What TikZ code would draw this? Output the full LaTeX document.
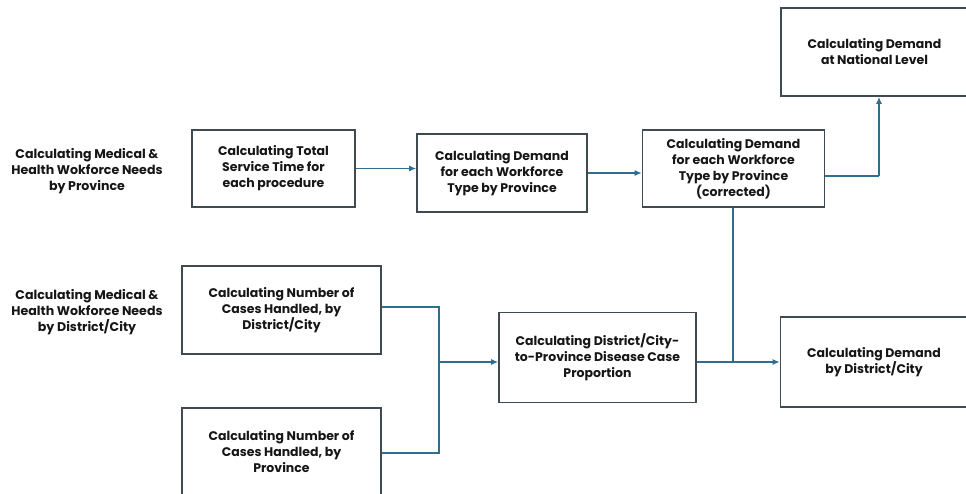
\documentclass[tikz,border=0pt]{standalone}
\usepackage{fontspec}
\setmainfont{Poppins}
\usetikzlibrary{arrows.meta}
\definecolor{boxline}{HTML}{3F4B50}
\definecolor{conn}{HTML}{2F6E8E}
\definecolor{txt}{HTML}{161616}
\begin{document}
\begin{tikzpicture}[x=1pt,y=-1pt,
  stepbox/.style={draw=boxline,line width=1.6pt,fill=white,align=center,inner sep=0pt,
     font=\fontsize{12.5}{16}\selectfont\bfseries,text=txt},
  sidelabel/.style={align=center,font=\fontsize{12.6}{16.3}\selectfont\bfseries,text=txt},
  link/.style={draw=conn,line width=1.3pt},
  arr/.style={link,-{Latex[length=7pt,width=6pt]}}]
\useasboundingbox (0,0) rectangle (966,493);
\node[sidelabel] (L1) at (87,171) {Calculating Medical \&\\Health Wokforce Needs\\by Province};
\node[sidelabel] (L2) at (87,312) {Calculating Medical \&\\Health Wokforce Needs\\by District/City};
\node[stepbox,minimum width=163pt,minimum height=77pt] (A) at (273.5,168.5) {Calculating Total\\Service Time for\\each procedure};
\node[stepbox,minimum width=170pt,minimum height=78pt] (B) at (502,173) {Calculating Demand\\for each Workforce\\Type by Province};
\node[stepbox,minimum width=182pt,minimum height=77pt] (C) at (733.5,168.5) {Calculating Demand\\for each Workforce\\Type by Province\\(corrected)};
\node[stepbox,minimum width=187pt,minimum height=88pt] (D) at (874.5,52) {Calculating Demand\\at National Level};
\node[stepbox,minimum width=199pt,minimum height=88pt] (E) at (281.5,310) {Calculating Number of\\Cases Handled, by\\District/City};
\node[stepbox,minimum width=199pt,minimum height=88pt] (F) at (281.5,452) {Calculating Number of\\Cases Handled, by\\Province};
\node[stepbox,minimum width=197pt,minimum height=90pt] (G) at (597.5,357.5) {Calculating District/City-\\to-Province Disease Case\\Proportion};
\node[stepbox,minimum width=187pt,minimum height=90pt] (H) at (874,362) {Calculating Demand\\by District/City};
\coordinate (J1) at (439,362);
\coordinate (J2) at (733,362);
\coordinate (CD) at (879,176);
\draw[arr] (A.east) -- (A.east -| B.west);
\draw[arr] (B.east) -- (B.east -| C.west);
\draw[link] (C.east |- CD) -- (CD);
\draw[arr] (CD) -- (CD |- D.south);
\draw[link] (E.east |- 0,307) -| (J1);
\draw[link] (F.east |- 0,453) -| (J1);
\draw[arr] (J1) -- (J1 -| G.west);
\draw[arr] (G.east |- H.west) -- (H.west);
\draw[link] (C.south -| J2) -- (J2);
\end{tikzpicture}
\end{document}
